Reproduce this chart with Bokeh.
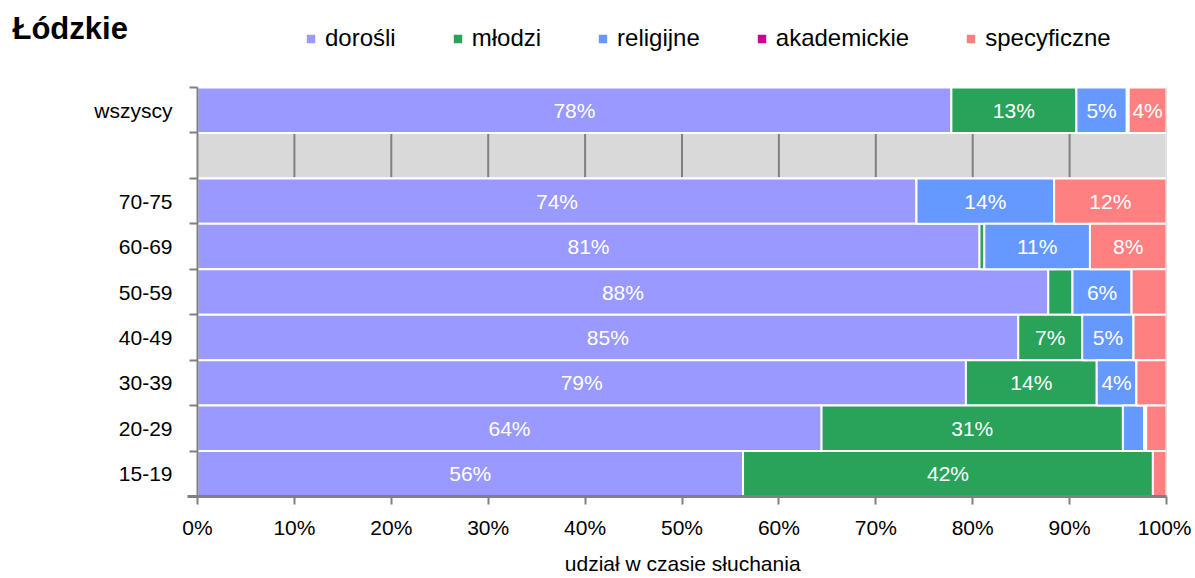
from bokeh.plotting import figure
from bokeh.models import (Range1d, FixedTicker, PrintfTickFormatter,
                          ColumnDataSource, Legend, LegendItem, Label)
from bokeh.core.properties import value
from bokeh.embed import file_html
from bokeh.resources import INLINE

# ---- data ----
title = "Łódzkie"
groups = ["wszyscy", "70-75", "60-69", "50-59", "40-49", "30-39", "20-29", "15-19"]
series = ["dorośli", "młodzi", "religijne", "akademickie", "specyficzne"]
colors = ["#9999FF", "#29A35A", "#6699FF", "#CC0099", "#FF8080"]
dorosli = [77.8, 74.2, 80.7, 87.8, 84.7, 79.3, 64.4, 56.3]
mlodzi = [12.9, 0.0, 0.5, 2.5, 6.6, 13.5, 31.1, 42.3]
religijne = [5.2, 14.2, 10.9, 6.1, 5.3, 4.1, 2.2, 0.0]
akademickie = [0.2, 0.0, 0.0, 0.0, 0.0, 0.0, 0.2, 0.0]
specyficzne = [3.9, 11.6, 7.9, 3.6, 3.4, 3.1, 2.1, 1.4]
x_ticks = [0, 10, 20, 30, 40, 50, 60, 70, 80, 90, 100]
x_label = "udział w czasie słuchania"

FONT = "Liberation Sans"
values_all = [dorosli, mlodzi, religijne, akademickie, specyficzne]

# row positions (bottom = 0); one empty separator row between "wszyscy" and the age groups
row_of = {g: (len(groups) - 1 - i if i > 0 else len(groups)) for i, g in enumerate(groups)}
rows = [row_of[g] for g in groups]
gap_row = len(groups) - 1
n_rows = len(groups) + 1
row_bounds = [r - 0.5 for r in range(n_rows + 1)]

# ---- layout (pixels) ----
FRAME_W, FRAME_H = 1166, 496
PLOT_LEFT_PX = 197            # where 0% sits
ROW_PX = 45.44
px_per_pct = (FRAME_W - PLOT_LEFT_PX) / 100.0
x_start = -PLOT_LEFT_PX / px_per_pct
y_top = -0.5 + FRAME_H / ROW_PX

src = ColumnDataSource(dict(row=rows, **{s: v for s, v in zip(series, values_all)}))

p = figure(x_range=Range1d(x_start, 100), y_range=Range1d(-0.5, y_top),
           frame_width=FRAME_W, frame_height=FRAME_H,
           min_border_left=0, min_border_top=0, min_border_right=25,
           output_backend="svg", toolbar_location=None)
p.outline_line_color = None
p.xgrid.grid_line_color = None
p.ygrid.grid_line_color = None

# gray separator band with gridlines
p.hbar(y=[gap_row], left=[0], right=[100], height=1.0,
       fill_color="#D9D9D9", line_color="white", line_width=2)
p.rect(x=x_ticks[1:-1], y=[gap_row] * (len(x_ticks) - 2), width=2, width_units="screen",
       height=0.95, fill_color="#808080", line_color=None)

renderers = p.hbar_stack(series, y="row", height=1.0, color=colors,
                         line_color="white", line_width=2, source=src)

# right border of the plot area
p.segment(x0=[100], y0=[row_bounds[0]], x1=[100], y1=[row_bounds[-1]],
          line_color="#C8C8C8", line_width=1.5)

# value labels
lx, ly, lt = [], [], []
for i, r in enumerate(rows):
    left = 0.0
    for vals in values_all:
        v = vals[i]
        if v >= 3.8:
            lx.append(left + v / 2)
            ly.append(r)
            lt.append(f"{round(v):d}%")
        left += v
p.text(x=lx, y=ly, text=lt, text_color="white", text_font=value(FONT),
       text_font_size="21px", text_align="center", text_baseline="middle")

# legend (inside the frame, in its top strip)
legend = Legend(items=[LegendItem(label=s, renderers=[r]) for s, r in zip(series, renderers)],
                orientation="horizontal", location=(304, FRAME_H - 52),
                glyph_width=13, glyph_height=13, label_standoff=8, spacing=55,
                padding=0, margin=0, border_line_color=None, background_fill_alpha=0,
                label_text_font=FONT, label_text_font_size="24px", label_text_color="black")
p.add_layout(legend, "center")

# title
p.add_layout(Label(x=12, y=FRAME_H - 28, x_units="screen", y_units="screen", text=title,
                   text_font=FONT, text_font_style="bold", text_font_size="31px",
                   text_baseline="alphabetic", text_color="black"))

# x axis
p.xaxis.bounds = (-1, 100)
p.xaxis.ticker = FixedTicker(ticks=x_ticks)
p.xaxis.formatter = PrintfTickFormatter(format="%d%%")
p.xaxis.axis_line_color = "#808080"
p.xaxis.axis_line_width = 3
p.xaxis.major_tick_line_color = "#808080"
p.xaxis.major_tick_line_width = 2
p.xaxis.major_tick_out = 8
p.xaxis.major_tick_in = 0
p.xaxis.minor_tick_line_color = None
p.xaxis.major_label_standoff = 11
p.xaxis.major_label_text_font = FONT
p.xaxis.major_label_text_font_size = "21px"
p.xaxis.major_label_text_color = "black"
# the axis label is centred on the whole frame; pad it so it sits under the bars
p.xaxis.axis_label = "\u00a0" * 34 + x_label
p.xaxis.axis_label_text_font = FONT
p.xaxis.axis_label_text_font_size = "21px"
p.xaxis.axis_label_text_font_style = "normal"
p.xaxis.axis_label_text_color = "black"
p.xaxis.axis_label_standoff = 10

# y axis, pinned at 0%
p.yaxis.fixed_location = 0
p.yaxis.bounds = (row_bounds[0], row_bounds[-1])
p.yaxis.ticker = FixedTicker(ticks=rows, minor_ticks=row_bounds)
p.yaxis.major_label_overrides = {r: g for r, g in zip(rows, groups)}
p.yaxis.axis_line_color = "#808080"
p.yaxis.axis_line_width = 2
p.yaxis.major_tick_line_color = None
p.yaxis.major_tick_out = 0
p.yaxis.major_tick_in = 0
p.yaxis.minor_tick_line_color = "#808080"
p.yaxis.minor_tick_line_width = 2
p.yaxis.minor_tick_out = 8
p.yaxis.minor_tick_in = 0
p.yaxis.major_label_standoff = 17
p.yaxis.major_label_text_font = FONT
p.yaxis.major_label_text_font_size = "21px"
p.yaxis.major_label_text_color = "black"

open("out.html", "w").write(file_html(p, INLINE))
